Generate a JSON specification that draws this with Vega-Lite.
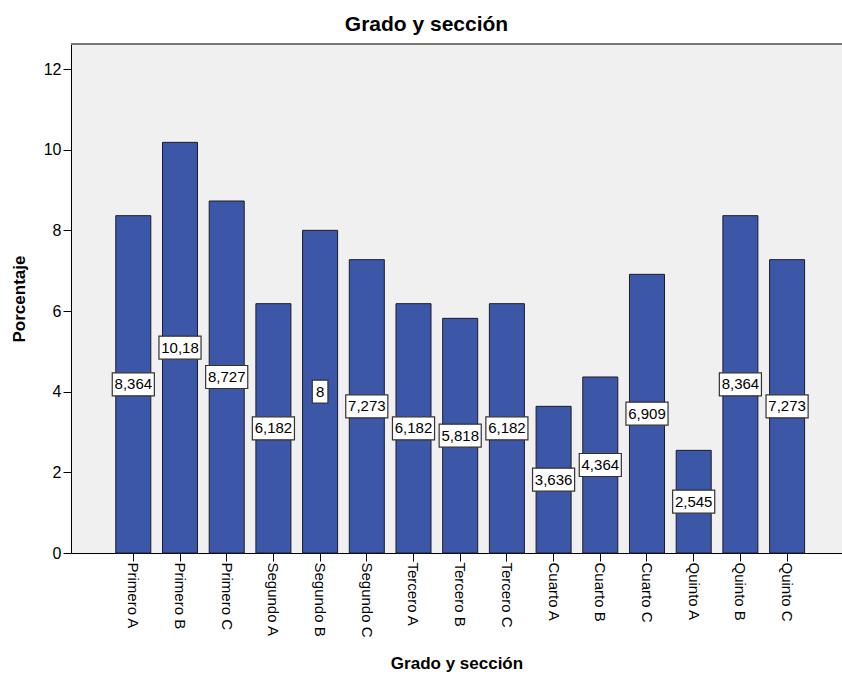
{
  "$schema": "https://vega.github.io/schema/vega-lite/v6.json",
  "width": 771,
  "height": 509,
  "autosize": {"type": "none"},
  "padding": {"left": 71, "top": 44, "right": 0, "bottom": 121},
  "background": "white",
  "title": {"text": "Grado y sección", "font": "Liberation Sans", "fontSize": 21, "fontWeight": "bold", "color": "black", "anchor": "middle", "dx": -30, "offset": 8},
  "data": {"values": [
    {"grado": "Primero A", "Porcentaje": 8.364, "label": "8,364"},
    {"grado": "Primero B", "Porcentaje": 10.182, "label": "10,18"},
    {"grado": "Primero C", "Porcentaje": 8.727, "label": "8,727"},
    {"grado": "Segundo A", "Porcentaje": 6.182, "label": "6,182"},
    {"grado": "Segundo B", "Porcentaje": 8, "label": "8"},
    {"grado": "Segundo C", "Porcentaje": 7.273, "label": "7,273"},
    {"grado": "Tercero A", "Porcentaje": 6.182, "label": "6,182"},
    {"grado": "Tercero B", "Porcentaje": 5.818, "label": "5,818"},
    {"grado": "Tercero C", "Porcentaje": 6.182, "label": "6,182"},
    {"grado": "Cuarto A", "Porcentaje": 3.636, "label": "3,636"},
    {"grado": "Cuarto B", "Porcentaje": 4.364, "label": "4,364"},
    {"grado": "Cuarto C", "Porcentaje": 6.909, "label": "6,909"},
    {"grado": "Quinto A", "Porcentaje": 2.545, "label": "2,545"},
    {"grado": "Quinto B", "Porcentaje": 8.364, "label": "8,364"},
    {"grado": "Quinto C", "Porcentaje": 7.273, "label": "7,273"}
  ]},
  "transform": [{"calculate": "datum.Porcentaje / 2", "as": "mid"}],
  "encoding": {
    "x": {"field": "grado", "type": "nominal", "sort": null,
      "scale": {"paddingInner": 0.25, "paddingOuter": 0.88, "align": 0.545},
      "axis": {"title": "Grado y sección", "labelAngle": 90, "labelFontSize": 15, "labelFont": "Liberation Sans", "labelColor": "black", "labelPadding": 1, "tickSize": 8, "tickColor": "black", "domainColor": "black", "titleFont": "Liberation Sans", "titleFontSize": 17, "titleFontWeight": "bold", "titleColor": "black", "titlePadding": 18, "grid": false}}
  },
  "layer": [
    {
      "mark": {"type": "rule", "stroke": "#777777", "strokeWidth": 2},
      "encoding": {"y": {"datum": 12.62, "type": "quantitative"}, "x": null}
    },
    {
      "mark": {"type": "bar", "fill": "#3c56a8", "stroke": "#1c1c2c", "strokeWidth": 1},
      "encoding": {
        "y": {"field": "Porcentaje", "type": "quantitative",
          "scale": {"domain": [0, 12.62], "nice": false},
          "axis": {"title": "Porcentaje", "values": [0, 2, 4, 6, 8, 10, 12], "labelFontSize": 16, "labelFont": "Liberation Sans", "labelColor": "black", "labelPadding": 2, "tickSize": 8, "tickColor": "black", "domainColor": "black", "titleFont": "Liberation Sans", "titleFontSize": 17, "titleFontWeight": "bold", "titleColor": "black", "titlePadding": 15, "grid": false}}
      }
    },
    {
      "transform": [{"filter": "length(datum.label) > 1"}],
      "mark": {"type": "point", "shape": "M-1.83,-1H1.83V1H-1.83Z", "size": 529, "filled": true, "fill": "white", "stroke": "#333333", "strokeWidth": 1.2, "opacity": 1},
      "encoding": {"y": {"field": "mid", "type": "quantitative"}}
    },
    {
      "transform": [{"filter": "length(datum.label) <= 1"}],
      "mark": {"type": "point", "shape": "M-0.68,-1H0.68V1H-0.68Z", "size": 529, "filled": true, "fill": "white", "stroke": "#333333", "strokeWidth": 1.2, "opacity": 1},
      "encoding": {"y": {"field": "mid", "type": "quantitative"}}
    },
    {
      "mark": {"type": "text", "font": "Liberation Sans", "fontSize": 15, "color": "black", "baseline": "middle", "align": "center"},
      "encoding": {"y": {"field": "mid", "type": "quantitative"}, "text": {"field": "label"}}
    }
  ],
  "config": {"view": {"fill": "#f0f0f0", "stroke": null}}
}
